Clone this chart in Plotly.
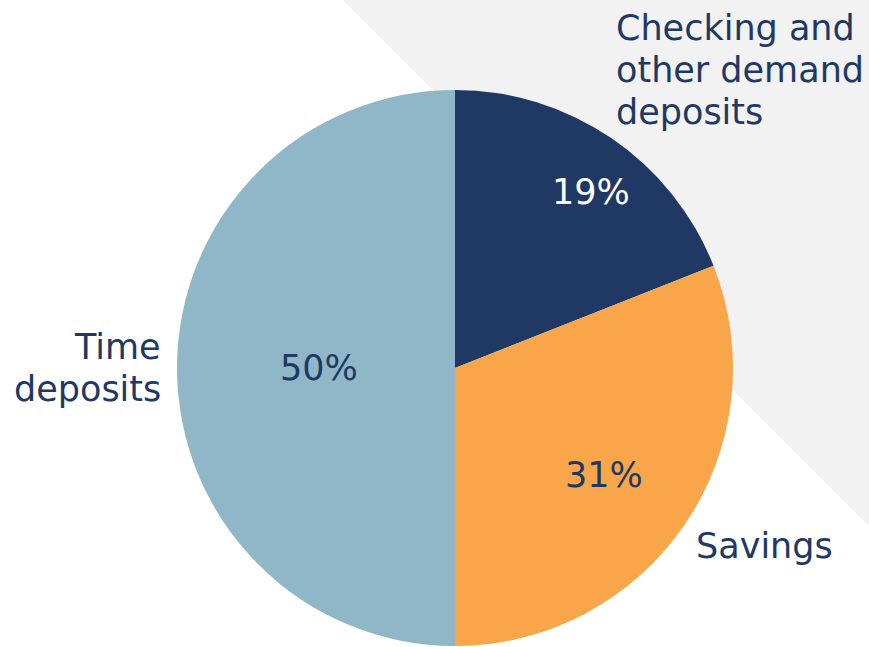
import math
import plotly.graph_objects as go

labels = ["Checking and other demand deposits", "Savings", "Time deposits"]
values = [19, 31, 50]
colors = ["#1F3864", "#F9A64A", "#8FB7C8"]
text_colors = ["#FFFFFF", "#1F3864", "#1F3864"]
# how far out (fraction of radius) each percent label sits
label_radius = [0.80, 0.66, 0.49]
label_angle_shift = [3.5, 1.5, 0.0]

W, H = 869, 647
navy = "#1F3864"
font_family = "DejaVu Sans"
FS = 35
LINE = 42

# pie geometry in pixels
cx, R = 455, 278
cy = H - R - 1

fig = go.Figure()
fig.add_trace(go.Pie(
    labels=labels,
    values=values,
    sort=False,
    direction="clockwise",
    rotation=0,
    marker=dict(colors=colors, line=dict(color="white", width=0)),
    textinfo="none",
    domain=dict(x=[(cx - R) / W, (cx + R) / W], y=[1 / H, (2 * R + 1) / H]),
    showlegend=False,
    hoverinfo="label+percent",
))

# percent labels positioned from the data
total = sum(values)
start = 0.0
for v, tc, rf, sh in zip(values, text_colors, label_radius, label_angle_shift):
    frac = v / total
    mid = (start + frac / 2) * 360 + sh
    start += frac
    a = math.radians(mid)
    px = cx + rf * R * math.sin(a)
    py = cy - rf * R * math.cos(a)
    fig.add_annotation(
        text=f"{frac:.0%}", xref="paper", yref="paper",
        x=px / W, y=1 - py / H, xanchor="center", yanchor="middle",
        showarrow=False, font=dict(family=font_family, size=FS, color=tc),
    )

# background gray triangle
fig.add_shape(
    type="path",
    xref="paper", yref="paper",
    path=f"M {343/W},1 L 1,1 L 1,{1-526/H} Z",
    fillcolor="#F2F2F2",
    line=dict(width=0),
    layer="below",
)

def ann(lines, x, ycenter, xanchor):
    n = len(lines)
    for i, t in enumerate(lines):
        y = ycenter + (i - (n - 1) / 2) * LINE
        fig.add_annotation(
            text=t, xref="paper", yref="paper",
            x=x / W, y=1 - y / H, xanchor=xanchor, yanchor="middle",
            showarrow=False,
            font=dict(family=font_family, size=FS, color=navy),
        )

ann(["Checking and", "other demand", "deposits"], 614, 70, "left")
ann(["Savings"], 694, 546, "left")
ann(["Time", "deposits"], 163, 368, "right")

fig.update_layout(
    width=W, height=H,
    margin=dict(l=0, r=0, t=0, b=0),
    paper_bgcolor="white",
    plot_bgcolor="white",
)

fig.write_html(
    "out.html",
    config={"displayModeBar": False},
    post_script="document.body.style.margin='0';document.body.style.overflow='hidden';",
)
